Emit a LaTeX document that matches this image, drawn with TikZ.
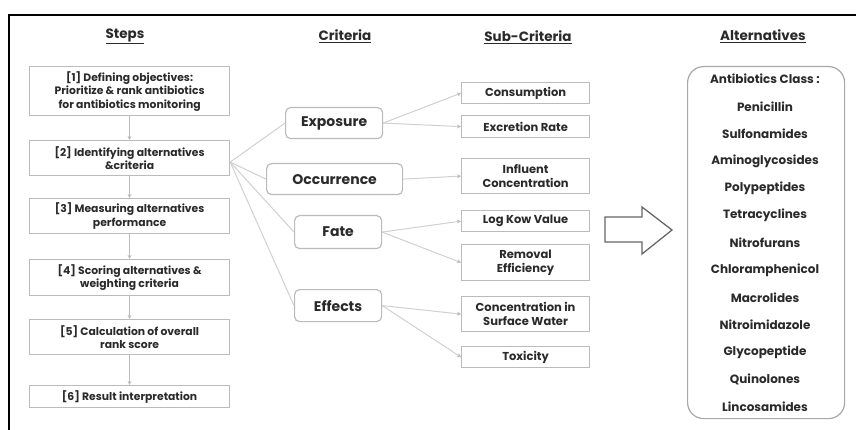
\documentclass[tikz,border=0pt]{standalone}
\usepackage{fontspec}
\setmainfont{Poppins}
\usetikzlibrary{arrows.meta}
\definecolor{txt}{HTML}{2A2A2A}
\definecolor{boxgray}{HTML}{BBBBBB}
\definecolor{altgray}{HTML}{A8A8A8}
\definecolor{linegray}{HTML}{D0D0D0}
\definecolor{arrgray}{HTML}{666666}
\tikzset{
  base/.style={draw=boxgray, line width=1.2pt, anchor=north west, inner sep=0pt,
    align=center, text=txt},
  stepbox/.style={base, minimum width=200pt, font=\bfseries\fontsize{10.8}{13.5}\selectfont},
  critbox/.style={base, rounded corners=5pt, font=\bfseries\fontsize{14}{16}\selectfont},
  subbox/.style={base, minimum width=128pt, font=\bfseries\fontsize{11.5}{14.5}\selectfont},
  header/.style={text=txt, font=\bfseries\fontsize{13.5}{15}\selectfont, inner sep=0pt},
  item/.style={text=txt, font=\bfseries\fontsize{12}{13}\selectfont, inner sep=0pt},
  stepconn/.style={draw=boxgray, line width=1pt, -{Stealth[length=4pt,width=4pt]}},
  critconn/.style={draw=linegray, line width=1pt},
  subconn/.style={draw=linegray, line width=1pt, -{Stealth[length=4pt,width=4pt,color=boxgray]}},
}
\begin{document}
\begin{tikzpicture}[x=1pt,y=-1pt]
\useasboundingbox (0,0) rectangle (856,430);
% frame
\draw[line width=1.5pt] (9,430) -- (9,15) -- (856,15);
% headers
\node[header] (hsteps) at (125,36) {\underline{Steps}};
\node[header] (hcrit) at (345,36) {\underline{Criteria}};
\node[header] (hsub) at (528,37) {\underline{Sub-Criteria}};
\node[header] (halt) at (763,36) {\underline{Alternatives}};
% steps
\node[stepbox, minimum height=49pt] (s1) at (29,66) {[1] Defining objectives:\\Prioritize \& rank antibiotics\\for antibiotics monitoring};
\node[stepbox, minimum height=35pt] (s2) at (29,140) {[2] Identifying alternatives\\\&criteria};
\node[stepbox, minimum height=35pt] (s3) at (29,198) {[3] Measuring alternatives\\performance};
\node[stepbox, minimum height=36pt] (s4) at (29,259) {[4] Scoring alternatives \&\\weighting criteria};
\node[stepbox, minimum height=35pt] (s5) at (29,319) {[5] Calculation of overall\\rank score};
\node[stepbox, minimum height=22pt] (s6) at (29,385) {[6] Result interpretation};
\foreach \a/\b in {s1/s2,s2/s3,s3/s4,s4/s5,s5/s6}
  \draw[stepconn] (\a.south) -- (\b.north);
% criteria
\node[critbox, minimum width=97pt, minimum height=31pt] (cexp) at (285,107) {Exposure};
\node[critbox, minimum width=136pt, minimum height=31pt] (cocc) at (266,163) {Occurrence};
\node[critbox, minimum width=87pt, minimum height=33pt] (cfate) at (294,215) {Fate};
\node[critbox, minimum width=87pt, minimum height=32pt] (ceff) at (294,289) {Effects};
\foreach \c in {cexp,cocc,cfate,ceff}
  \draw[critconn] ([yshift=-4pt]s2.east) -- (\c.west);
% sub-criteria
\node[subbox, minimum height=21pt] (scons) at (461,82) {Consumption};
\node[subbox, minimum height=22pt] (sexc) at (461,115) {Excretion Rate};
\node[subbox, minimum height=35pt] (sinf) at (461,158) {Influent\\Concentration};
\node[subbox, minimum height=21pt] (slog) at (461,210) {Log Kow Value};
\node[subbox, minimum height=36pt] (srem) at (461,244) {Removal\\Efficiency};
\node[subbox, minimum height=35pt] (ssw) at (461,296) {Concentration in\\Surface Water};
\node[subbox, minimum height=21pt] (stox) at (461,346) {Toxicity};
\foreach \a/\b in {cexp/scons,cexp/sexc,cocc/sinf,cfate/slog,cfate/srem,ceff/ssw,ceff/stox}
  \draw[subconn] (\a.east) -- (\b.west);
% big arrow
\draw[draw=arrgray, line width=1.3pt, line join=miter]
  (605,217) -- (642,217) -- (642,207) -- (672,230) -- (642,254) -- (642,242) -- (605,242) -- cycle;
% alternatives
\node[base, draw=altgray, rounded corners=16pt, minimum width=157pt, minimum height=352pt] (alt) at (687,66) {};
\foreach \t [count=\i from 0] in {Antibiotics Class :,Penicillin,Sulfonamides,Aminoglycosides,Polypeptides,Tetracyclines,Nitrofurans,Chloramphenicol,Macrolides,Nitroimidazole,Glycopeptide,Quinolones,Lincosamides}
  \node[item] (alt\i) at (765,79+27.33*\i) {\t};
\end{tikzpicture}
\end{document}
